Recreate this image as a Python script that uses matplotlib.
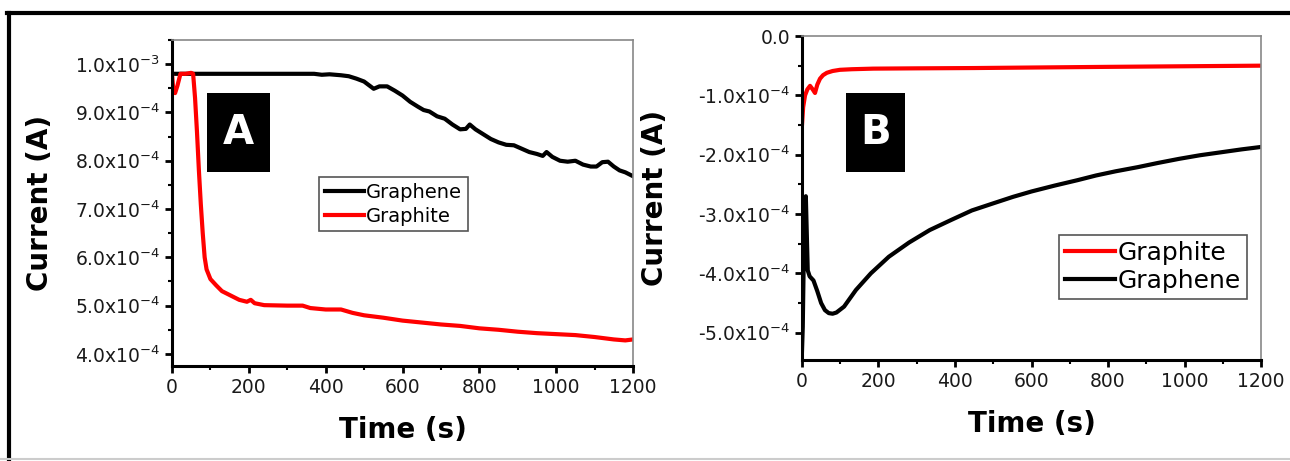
import matplotlib
matplotlib.use('Agg')
import matplotlib.pyplot as plt
from matplotlib.lines import Line2D
from matplotlib.patches import Rectangle
from matplotlib.ticker import MultipleLocator, FuncFormatter

plt.rcParams['font.family'] = ['DejaVu Sans']
plt.rcParams['mathtext.fontset'] = 'dejavusans'

# panel A (values in units of 1e-4 A)
t_graphene_a = [0, 100, 200, 300, 370, 390, 410, 440, 460, 480, 500, 515, 525,
                540, 560, 580, 600, 620, 640, 655, 670, 690, 710, 730, 750, 765,
                775, 790, 810, 830, 850, 870, 890, 910, 930, 950, 965, 975, 990,
                1010, 1030, 1050, 1070, 1090, 1105, 1120, 1135, 1150, 1165, 1180,
                1200]
i_graphene_a = [9.80, 9.80, 9.80, 9.80, 9.80, 9.78, 9.79, 9.77, 9.75, 9.70,
                9.64, 9.55, 9.49, 9.54, 9.54, 9.45, 9.35, 9.22, 9.12, 9.05, 9.02,
                8.92, 8.87, 8.75, 8.65, 8.66, 8.75, 8.65, 8.55, 8.45, 8.38, 8.33,
                8.32, 8.25, 8.18, 8.14, 8.10, 8.18, 8.08, 8.00, 7.98, 8.00, 7.92,
                7.88, 7.88, 7.97, 7.98, 7.88, 7.80, 7.76, 7.68]
t_graphite_a = [0, 3, 8, 14, 22, 35, 50, 55, 60, 65, 70, 75, 80, 85, 90, 100,
                115, 130, 150, 175, 195, 205, 215, 240, 300, 340, 360, 400, 440,
                470, 500, 550, 600, 650, 700, 750, 800, 850, 900, 950, 1000,
                1050, 1100, 1150, 1180, 1200]
i_graphite_a = [9.80, 9.50, 9.40, 9.55, 9.80, 9.80, 9.82, 9.80, 9.30, 8.60,
                7.80, 7.10, 6.50, 6.00, 5.75, 5.55, 5.42, 5.30, 5.22, 5.12, 5.08,
                5.12, 5.05, 5.01, 5.00, 5.00, 4.95, 4.92, 4.92, 4.85, 4.80, 4.75,
                4.69, 4.65, 4.61, 4.58, 4.53, 4.50, 4.46, 4.43, 4.41, 4.39, 4.35,
                4.30, 4.28, 4.30]

# panel B (values in units of 1e-4 A)
t_graphite_b = [0, 3, 8, 14, 21, 28, 34, 40, 47, 55, 65, 80, 99, 130, 186, 300,
                450, 622, 800, 1000, 1200]
i_graphite_b = [-1.5, -1.2, -1.0, -0.9, -0.84, -0.9, -0.96, -0.82, -0.72, -0.66,
                -0.62, -0.59, -0.57, -0.56, -0.55, -0.545, -0.54, -0.53, -0.52,
                -0.51, -0.5]
t_graphene_b = [0, 2, 4, 6, 8, 10, 12, 15, 20, 30, 40, 50, 60, 70, 80, 90, 110,
                141, 180, 227, 280, 334, 390, 444, 500, 552, 600, 661, 720, 769,
                820, 878, 930, 986, 1040, 1095, 1150, 1200]
i_graphene_b = [-5.3, -4.9, -4.0, -3.2, -2.75, -2.7, -3.2, -3.95, -4.05, -4.12,
                -4.3, -4.5, -4.62, -4.67, -4.68, -4.66, -4.56, -4.28, -4.0, -3.72,
                -3.48, -3.27, -3.10, -2.94, -2.82, -2.71, -2.62, -2.52, -2.43,
                -2.35, -2.28, -2.21, -2.14, -2.07, -2.01, -1.96, -1.91, -1.87]


def sci(v, pos):
    if abs(v) < 1e-12:
        return '0.0'
    e = int(f'{v:e}'.split('e')[1])
    m = v / 10 ** e
    return f'{m:.1f}x10$^{{{e}}}$'


def style_axes(ax):
    for side in ('left', 'bottom'):
        ax.spines[side].set_linewidth(2.2)
        ax.spines[side].set_color('black')
    for side in ('top', 'right'):
        ax.spines[side].set_linewidth(1.2)
        ax.spines[side].set_color('#888888')
    ax.tick_params(which='major', direction='out', length=5, width=2,
                   labelsize=13.5, labelcolor='#1a1a1a', top=False, right=False)
    ax.tick_params(which='minor', direction='out', length=3, width=1.5,
                   top=False, right=False)
    ax.set_xlim(0, 1200)
    ax.xaxis.set_major_locator(MultipleLocator(200))
    ax.xaxis.set_minor_locator(MultipleLocator(100))
    ax.yaxis.set_major_formatter(FuncFormatter(sci))
    ax.set_xlabel('Time (s)', fontsize=20, fontweight='bold', labelpad=14)
    ax.set_ylabel('Current (A)', fontsize=20, fontweight='bold')


def letter_box(ax, x, y, w, h, letter):
    ax.add_patch(Rectangle((x, y), w, h, transform=ax.transAxes,
                           facecolor='black', edgecolor='none', zorder=4))
    ax.text(x + w / 2, y + h / 2, letter, transform=ax.transAxes,
            color='white', fontsize=29, fontweight='bold',
            ha='center', va='center', zorder=5)


fig = plt.figure(figsize=(12.9, 4.61), dpi=100)

# outer frame
fig.add_artist(Line2D([7 / 1290, 1.0], [1 - 13 / 461] * 2, color='black',
                      lw=3, transform=fig.transFigure))
fig.add_artist(Line2D([9 / 1290] * 2, [1 - 13 / 461, 0.0], color='black',
                      lw=3, transform=fig.transFigure))
fig.add_artist(Line2D([0, 1], [1 - 459 / 461] * 2, color='#cccccc',
                      lw=1.5, transform=fig.transFigure))

ax1 = fig.add_axes([172 / 1290, 1 - 366 / 461, 461 / 1290, 326 / 461])
ax1.plot(t_graphene_a, [v * 1e-4 for v in i_graphene_a], color='black', lw=3,
         label='Graphene')
ax1.plot(t_graphite_a, [v * 1e-4 for v in i_graphite_a], color='#ff0000', lw=3,
         label='Graphite')
ax1.set_ylim(3.75e-4, 1.05e-3)
ax1.yaxis.set_major_locator(MultipleLocator(1e-4))
ax1.yaxis.set_minor_locator(MultipleLocator(5e-5))
style_axes(ax1)
ax1.yaxis.set_label_coords(-0.255, 0.5)
letter_box(ax1, 0.076, 0.595, 0.137, 0.242, 'A')
leg1 = ax1.legend(loc='upper left', bbox_to_anchor=(0.319, 0.58),
                  borderaxespad=0, fontsize=14, handlelength=2.0,
                  handletextpad=0.1, labelspacing=0.25, borderpad=0.3,
                  fancybox=False, edgecolor='#555555', framealpha=1)
leg1.get_frame().set_linewidth(1.2)

ax2 = fig.add_axes([802 / 1290, 1 - 360 / 461, 459 / 1290, 324 / 461])
ax2.plot(t_graphite_b, [v * 1e-4 for v in i_graphite_b], color='#ff0000', lw=3,
         label='Graphite')
ax2.plot(t_graphene_b, [v * 1e-4 for v in i_graphene_b], color='black', lw=3,
         label='Graphene')
ax2.set_ylim(-5.46e-4, 0)
ax2.yaxis.set_major_locator(MultipleLocator(1e-4))
ax2.yaxis.set_minor_locator(MultipleLocator(5e-5))
style_axes(ax2)
ax2.yaxis.set_label_coords(-0.29, 0.5)
letter_box(ax2, 0.096, 0.58, 0.129, 0.244, 'B')
leg2 = ax2.legend(loc='upper right', bbox_to_anchor=(0.969, 0.386),
                  borderaxespad=0, fontsize=18, handlelength=2.0,
                  handletextpad=0.1, labelspacing=0.15, borderpad=0.25,
                  fancybox=False, edgecolor='#555555', framealpha=1)
leg2.get_frame().set_linewidth(1.2)

fig.savefig('out.png', dpi=100)
